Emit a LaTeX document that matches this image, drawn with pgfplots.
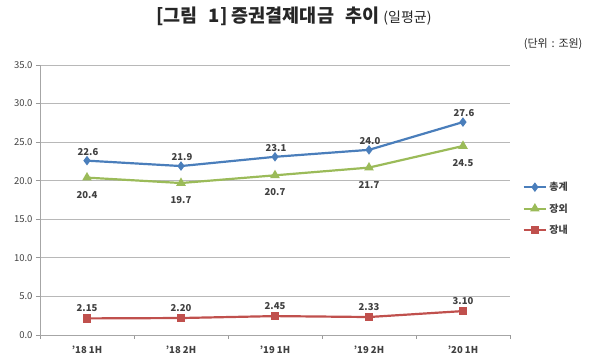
\documentclass[border=0pt]{standalone}
\usepackage{pgfplots}
\pgfplotsset{compat=1.18}
\usepackage{fontspec}
\setmainfont{Noto Sans CJK KR}
\definecolor{cblue}{HTML}{4A7EBB}
\definecolor{cgreen}{HTML}{9BBB59}
\definecolor{cred}{HTML}{C0504D}
\definecolor{txt}{HTML}{404040}
\begin{document}
\begin{tikzpicture}
\path[use as bounding box] (-40pt,-26pt) rectangle (550pt,335pt);
\begin{axis}[
  at={(0pt,0pt)}, anchor=south west,
  scale only axis, width=470pt, height=270pt,
  xmin=0.5, xmax=5.5, ymin=0, ymax=35,
  axis lines*=left,
  axis line style={-, draw=black!35, line width=0.9pt},
  xtick={1,2,3,4,5},
  xticklabels={'18 1H,'18 2H,'19 1H,'19 2H,'20 1H},
  x tick label style={font=\fontsize{9.5}{10}\selectfont\bfseries, text=txt, yshift=-3pt},
  major x tick style={draw=none},
  minor xtick={0.5,1.5,...,5.5},
  minor x tick style={draw=black!40, line width=0.9pt},
  minor tick length=4pt,
  tick align=outside,
  ytick={0,5,...,35},
  ytick style={draw=black!40, line width=0.9pt},
  major tick length=4pt,
  y tick label style={font=\fontsize{9.5}{10}\selectfont, text=txt},
  /pgf/number format/assume math mode=true,
  yticklabel style={/pgf/number format/.cd, fixed, fixed zerofill, precision=1},
  ymajorgrids,
  grid style={draw=black!28, line width=0.9pt},
  legend style={at={(1.026,0.574)}, anchor=north west, draw=none, fill=none,
    font=\fontsize{10}{12}\selectfont\bfseries, text=txt,
    row sep=7.5pt, inner sep=0pt},
  legend cell align=left,
  legend image code/.code={\draw[mark repeat=2, mark phase=2] plot coordinates {(0cm,0cm) (0.4cm,0cm) (0.8cm,0cm)};},
  every node near coord/.append style={font=\fontsize{9.5}{10}\selectfont\bfseries, text=txt},
  nodes near coords,
  point meta=y,
]
\addplot[cblue, line width=2.2pt, mark=diamond*, mark size=3pt,
  nodes near coords style={/pgf/number format/.cd, fixed, fixed zerofill, precision=1, /tikz/.cd, anchor=south, yshift=1pt, xshift=1pt}]
  coordinates {(1,22.6) (2,21.9) (3,23.1) (4,24.0) (5,27.6)};
\addlegendentry{총계}
\addplot[cgreen, line width=2.2pt, mark=triangle*, mark size=3.4pt,
  nodes near coords style={/pgf/number format/.cd, fixed, fixed zerofill, precision=1, /tikz/.cd, anchor=north, yshift=-9pt}]
  coordinates {(1,20.4) (2,19.7) (3,20.7) (4,21.7) (5,24.5)};
\addlegendentry{장외}
\addplot[cred, line width=2.2pt, mark=square*, mark size=3.2pt,
  nodes near coords style={/pgf/number format/.cd, fixed, fixed zerofill, precision=2, /tikz/.cd, anchor=south, yshift=2pt}]
  coordinates {(1,2.15) (2,2.20) (3,2.45) (4,2.33) (5,3.10)};
\addlegendentry{장내}
\end{axis}
\node[font=\fontsize{18.5}{20}\selectfont\bfseries, text=black!85] at (254pt,319pt) {[그림\hspace{0.6em}1] 증권결제대금\hspace{0.6em}추이 {\mdseries\fontsize{14}{16}\selectfont(일평균)}};
\node[anchor=east, font=\fontsize{11}{13}\selectfont, text=black!85] at (546pt,291pt) {(단위\hspace{0.35em}:\hspace{0.35em}조원)};
\end{tikzpicture}
\end{document}
